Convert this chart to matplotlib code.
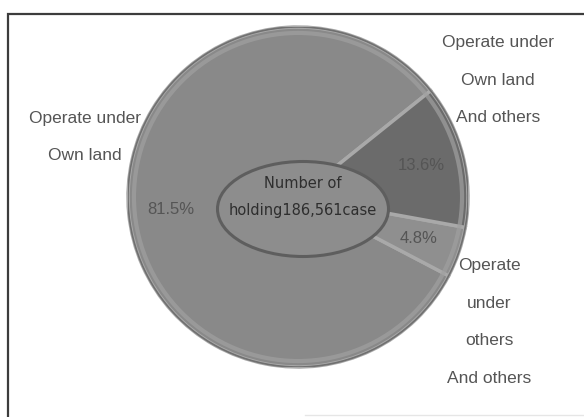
import matplotlib
matplotlib.use("Agg")
import matplotlib.pyplot as plt
from matplotlib.patches import Ellipse, Circle, Rectangle

# data
categories = ["Operate under\nOwn land",
              "Operate\nunder\nothers\nAnd others",
              "Operate under\nOwn land\nAnd others"]
values = [81.5, 4.8, 13.6]
colors = ["#898989", "#8f8f8f", "#6b6b6b"]
center_text = "Number of\nholding186,561case"

W, H = 584, 417
fig = plt.figure(figsize=(W / 100, H / 100), dpi=100)
fig.patch.set_facecolor("white")

# pie axes: circle of radius 170 px centred at (298, 197)
cx, cy, r = 298, 197, 170
ax = fig.add_axes([(cx - r) / W, (H - cy - r) / H, 2 * r / W, 2 * r / H])
wedges, texts = ax.pie(
    values, colors=colors, startangle=38.7, counterclock=True,
    labels=[f"{v}%" for v in values], labeldistance=0.75,
    wedgeprops=dict(edgecolor="#a9a9a9", linewidth=2.5),
    textprops=dict(family="Liberation Sans", fontsize=12, color="#555555"))
for t in texts:
    t.set_ha("center")
    t.set_va("center")
ax.set_aspect("auto")
ax.set_xlim(-1, 1)
ax.set_ylim(-1, 1)
# rim highlight
ax.add_patch(Circle((0, 0), 0.965, fill=False, edgecolor="#a0a0a0", lw=3, alpha=0.7))
ax.add_patch(Circle((0, 0), 1.0, fill=False, edgecolor="#707070", lw=1.2))

# overlay axes in pixel coordinates
ov = fig.add_axes([0, 0, 1, 1])
ov.set_xlim(0, W)
ov.set_ylim(H, 0)
ov.axis("off")
ov.patch.set_alpha(0)

# frame
ov.plot([7.5, 7.5, W], [H, 13.5, 13.5], color="#3c3c3c", lw=1.6, solid_joinstyle="miter")
ov.plot([305, W], [415, 415], color="#e6e6e6", lw=1)

# centre ellipse
ov.add_patch(Ellipse((303, 209), 171, 95, facecolor="#8d8d8d", edgecolor="#5e5e5e", lw=2.2))
ov.text(303, 197, center_text, ha="center", va="center", fontsize=10.5,
        family="DejaVu Sans", color="#2e2e2e", linespacing=1.95)

# outer labels
label_pos = [(85, 137), (489, 322), (498, 80)]
for (lx, ly), lab in zip(label_pos, categories):
    t = ov.text(lx, ly, lab, ha="center", va="center", fontsize=12.5,
                family="Liberation Sans", color="#555555", linespacing=2.9)
    if lab.endswith("others\nAnd others"):
        t.set_clip_path(Rectangle((0, 0), W, 384, transform=ov.transData))

fig.savefig("out.png", dpi=100)
